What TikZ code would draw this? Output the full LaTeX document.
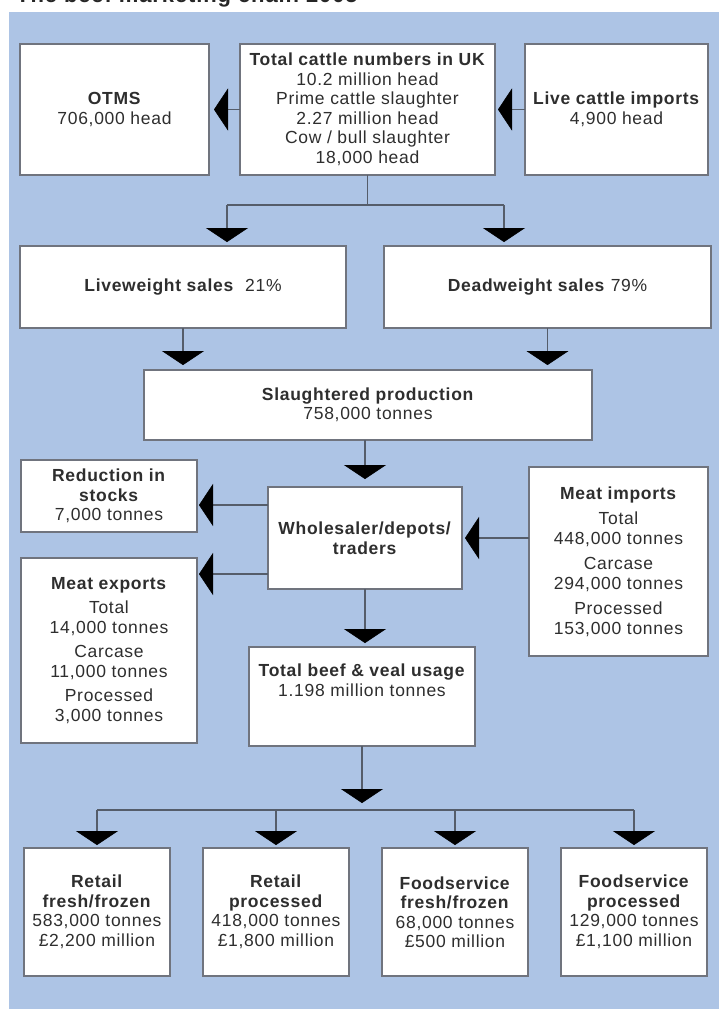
\documentclass[tikz,border=0pt]{standalone}
\usepackage{fontspec}
\setmainfont{Liberation Sans}[LetterSpace=4.0]
\usetikzlibrary{arrows.meta}
\definecolor{panel}{HTML}{ADC4E5}
\definecolor{boxline}{HTML}{70747E}
\definecolor{connc}{HTML}{555D6A}
\definecolor{txt}{HTML}{2E2E2E}
\tikzset{
  box/.style={draw=boxline, line width=1.1pt, fill=white, inner sep=0pt, outer sep=0pt,
    align=center, text=txt, font=\fontsize{17.5}{19.5}\selectfont},
  conn/.style={draw=connc, line width=1.3pt},
  arr/.style={conn, -{Triangle[width=42pt,length=14pt,color=black,line width=0.4pt]}},
}
\begin{document}
\begin{tikzpicture}[x=1pt,y=-1pt]
\useasboundingbox (0,0) rectangle (719,1009);
\fill[panel] (9,12) rectangle (719,1009);
\node[anchor=base west, font=\bfseries\fontsize{22}{24}\selectfont, text=black!85, inner sep=0pt] (title) at (16,2.5) {The beef marketing chain 2005};

% top row
\node[box, minimum width=189pt, minimum height=131pt] (otms) at (114.5,109.5) {\textbf{OTMS}\\706,000 head};
\node[box, minimum width=255pt, minimum height=131pt] (tc) at (367.5,109.5) {\textbf{Total cattle numbers in UK}\\10.2 million head\\Prime cattle slaughter\\2.27 million head\\Cow / bull slaughter\\18,000 head};
\node[box, minimum width=183pt, minimum height=131pt] (lci) at (616.5,109.5) {\textbf{Live cattle imports}\\4,900 head};

% sales
\node[box, minimum width=326pt, minimum height=82pt] (lw) at (183,287) {\textbf{Liveweight sales}\ \ 21\%};
\node[box, minimum width=327pt, minimum height=82pt] (dw) at (547.5,287) {\textbf{Deadweight sales} 79\%};
\node[box, minimum width=448pt, minimum height=70pt] (sp) at (368,405) {\textbf{Slaughtered production}\\758,000 tonnes};

% middle
\node[box, minimum width=176pt, minimum height=72pt] (red) at (109,496) {\textbf{Reduction in}\\\textbf{stocks}\\7,000 tonnes};
\node[box, minimum width=176pt, minimum height=185pt] (mex) at (109,650.5) {\textbf{Meat exports}\\[5pt]Total\\14,000 tonnes\\[5pt]Carcase\\11,000 tonnes\\[5pt]Processed\\3,000 tonnes};
\node[box, minimum width=194pt, minimum height=102pt] (ws) at (365,538) {\textbf{Wholesaler/depots/}\\\textbf{traders}};
\node[box, minimum width=179pt, minimum height=189pt] (mim) at (618.5,561.5) {\textbf{Meat imports}\\[6pt]Total\\448,000 tonnes\\[6pt]Carcase\\294,000 tonnes\\[6pt]Processed\\153,000 tonnes};
\node[box, minimum width=226pt, minimum height=99pt] (tb) at (362,696.5) {\textbf{Total beef \& veal usage}\\1.198 million tonnes\\[13pt]\mbox{}};

% bottom
\node[box, minimum width=146pt, minimum height=128pt] (b1) at (97,912) {\textbf{Retail}\\\textbf{fresh/frozen}\\583,000 tonnes\\£2,200 million};
\node[box, minimum width=146pt, minimum height=128pt] (b2) at (276,912) {\textbf{Retail}\\\textbf{processed}\\418,000 tonnes\\£1,800 million};
\node[box, minimum width=146pt, minimum height=128pt] (b3) at (455,912) {\textbf{Foodservice}\\\textbf{fresh/frozen}\\68,000 tonnes\\£500 million};
\node[box, minimum width=146pt, minimum height=128pt] (b4) at (634,912) {\textbf{Foodservice}\\\textbf{processed}\\129,000 tonnes\\£1,100 million};

% connectors top
\draw[arr, shorten >=5pt] (tc.west) -- (otms.east);
\draw[arr, shorten >=3pt] (lci.west) -- (tc.east);
\coordinate (bl) at (227,205);
\coordinate (bd) at (504,205);
\draw[conn] (tc.south) |- (bl);
\draw[conn] (bl) -- (bd);
\draw[arr, shorten >=4pt] (bl) -- (bl |- lw.north);
\draw[arr, shorten >=4pt] (bd) -- (bd |- dw.north);
\draw[arr, shorten >=5pt] (lw.south) -- (lw.south |- sp.north);
\draw[arr, shorten >=5pt] (dw.south) -- (dw.south |- sp.north);

% middle connectors
\draw[arr, shorten >=8pt] (sp.south -| ws.north) -- (ws.north);
\path ([yshift=33pt]ws.west) coordinate (wr);
\path ([yshift=-36pt]ws.west) coordinate (we);
\draw[arr, shorten >=2pt] (wr) -- (wr -| red.east);
\draw[arr, shorten >=2pt] (we) -- (we -| mex.east);
\draw[arr, shorten >=3pt] (mim.west |- ws.east) -- (ws.east);
\draw[arr, shorten >=4pt] (ws.south) -- (ws.south |- tb.north);

% bottom connectors
\coordinate (hb) at (362,810);
\draw[arr, shorten >=7pt] (tb.south) -- (tb.south |- hb);
\draw[conn] (b1.north |- hb) -- (b4.north |- hb);
\draw[arr, shorten >=3pt] (b1.north |- hb) -- (b1.north);
\draw[arr, shorten >=3pt] (b2.north |- hb) -- (b2.north);
\draw[arr, shorten >=3pt] (b3.north |- hb) -- (b3.north);
\draw[arr, shorten >=3pt] (b4.north |- hb) -- (b4.north);
\end{tikzpicture}
\end{document}
